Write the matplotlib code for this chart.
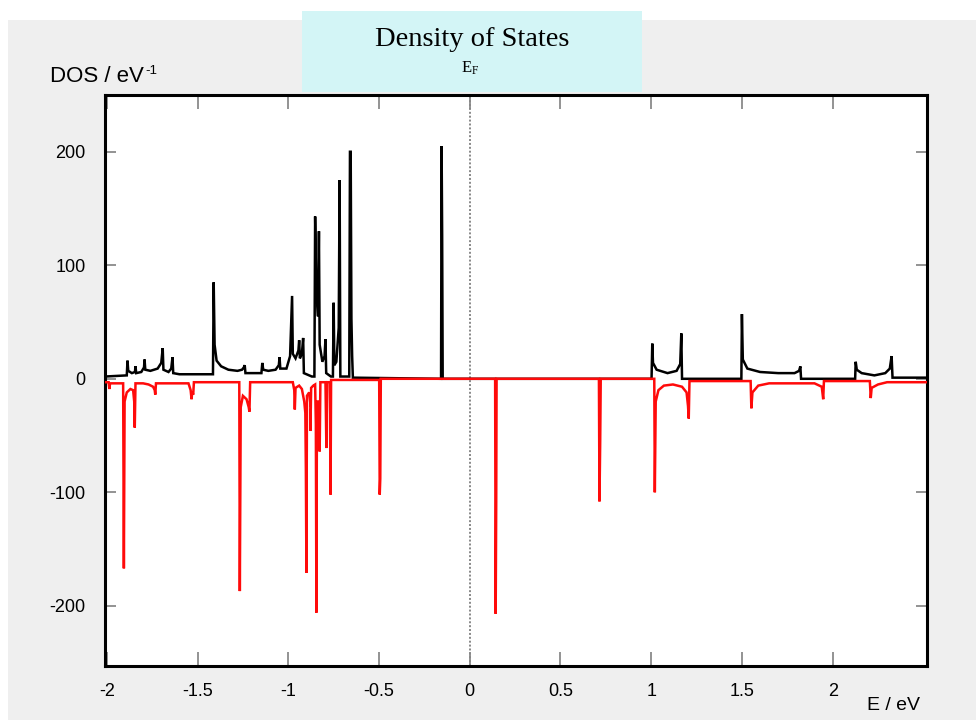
import matplotlib
matplotlib.use("Agg")
import matplotlib.pyplot as plt
from matplotlib.patches import Rectangle

# Spin-up DOS (black), traced vertices: energy (eV), DOS (1/eV)
e_up = [-2.01, -1.89, -1.886, -1.882, -1.862, -1.845, -1.842, -1.838, -1.81, -1.795,
        -1.792, -1.788, -1.76, -1.72, -1.70, -1.692, -1.688, -1.66, -1.645, -1.638,
        -1.634, -1.60, -1.415, -1.411, -1.406, -1.395, -1.37, -1.33, -1.28, -1.255,
        -1.245, -1.24, -1.236, -1.148, -1.143, -1.138, -1.11, -1.07, -1.052, -1.048,
        -1.044, -1.01, -0.99, -0.979, -0.975, -0.96, -0.944, -0.94, -0.936, -0.925,
        -0.918, -0.914, -0.87, -0.856, -0.852, -0.846, -0.836, -0.831, -0.827, -0.812,
        -0.80, -0.795, -0.791, -0.765, -0.754, -0.75, -0.746, -0.735, -0.722, -0.717,
        -0.713, -0.664, -0.66, -0.656, -0.652, -0.648, -0.644, -0.158, -0.155, -0.152,
        -0.149, 1.002, 1.006, 1.01, 1.03, 1.09, 1.14, 1.16, 1.166, 1.17,
        1.497, 1.50, 1.505, 1.53, 1.6, 1.7, 1.79, 1.815, 1.822, 1.826,
        2.124, 2.127, 2.133, 2.16, 2.23, 2.29, 2.315, 2.325, 2.33, 2.52]
dos_up = [2, 3, 16, 7, 5, 6, 11, 5, 6, 10,
          17, 8, 7, 9, 14, 27, 8, 6, 9, 19,
          5, 4, 4, 85, 30, 16, 11, 8, 7, 8,
          10, 12, 5, 5, 14, 8, 7, 8, 12, 19,
          9, 9, 20, 73, 22, 18, 25, 34, 18, 22,
          36, 5, 2, 2, 143, 80, 55, 130, 30, 15,
          20, 35, 5, 2, 2, 67, 12, 15, 45, 175,
          2, 2, 200, 200, 53, 20, 1, 0, 205, 127,
          0, 0, 31, 14, 8, 5, 7, 13, 40, 0,
          0, 57, 17, 9, 6, 5, 5, 7, 11, 0,
          0, 15, 8, 5, 3, 5, 9, 20, 1, 1]

# Spin-down DOS (red), drawn as negative values
e_dn = [-2.01, -1.99, -1.986, -1.982, -1.91, -1.906, -1.902, -1.89, -1.87, -1.855,
        -1.849, -1.846, -1.842, -1.80, -1.77, -1.745, -1.736, -1.733, -1.729, -1.55,
        -1.538, -1.533, -1.529, -1.524, -1.52, -1.27, -1.267, -1.262, -1.25, -1.23,
        -1.218, -1.214, -1.21, -0.975, -0.967, -0.964, -0.96, -0.94, -0.925, -0.912,
        -0.906, -0.903, -0.90, -0.897, -0.885, -0.876, -0.878, -0.874, -0.862, -0.852,
        -0.848, -0.845, -0.842, -0.83, -0.827, -0.823, -0.795, -0.79, -0.786, -0.771,
        -0.767, -0.764, -0.499, -0.496, -0.493, -0.49, 0.14, 0.143, 0.146, 0.148,
        0.712, 0.715, 0.719, 0.722, 1.017, 1.02, 1.025, 1.04, 1.07, 1.12,
        1.17, 1.195, 1.203, 1.207, 1.211, 1.548, 1.552, 1.558, 1.59, 1.65,
        1.9, 1.94, 1.948, 1.952, 2.205, 2.21, 2.215, 2.25, 2.3, 2.52]
dos_dn = [-3, -3, -9, -4, -4, -167, -20, -12, -9, -10,
          -20, -43, -4, -4, -5, -7, -10, -14, -4, -4,
          -10, -18, -11, -14, -3, -3, -187, -25, -15, -18,
          -25, -29, -3, -3, -10, -27, -8, -6, -9, -20,
          -30, -80, -171, -15, -12, -25, -46, -8, -6, -5,
          -40, -206, -20, -20, -64, -3, -3, -61, -3, -3,
          -102, -1, -1, -102, -88, 0, 0, -207, -108, 0,
          0, -108, -55, 0, 0, -100, -20, -10, -6, -5,
          -7, -12, -24, -35, -2, -2, -26, -12, -6, -4,
          -4, -7, -18, -2, -2, -17, -8, -5, -3, -3]

x_ticks = [-2, -1.5, -1, -0.5, 0, 0.5, 1, 1.5, 2]
x_labels = ["-2", "-1.5", "-1", "-0.5", "0", "0.5", "1", "1.5", "2"]
y_ticks = [-200, -100, 0, 100, 200]
y_labels = ["-200", "-100", "0", "100", "200"]

W, H = 976, 725
fig = plt.figure(figsize=(W / 100, H / 100), dpi=100)
fig.patch.set_facecolor("white")

# grey panel and title box, kept behind the axes
fig.patches.append(Rectangle((8 / W, 5 / H), 968 / W, 700 / H, transform=fig.transFigure,
                             facecolor="#efefef", edgecolor="none", zorder=-2))
fig.patches.append(Rectangle((302 / W, (H - 92) / H), 340 / W, 81 / H, transform=fig.transFigure,
                             facecolor="#d3f5f6", edgecolor="none", zorder=-1))
fig.text(472 / W, (H - 40) / H, "Density of States", family="Liberation Serif",
         fontsize=20.5, ha="center", va="center")
fig.text(470 / W, (H - 68) / H, r"$\mathregular{E_F}$", family="Liberation Serif",
         fontsize=12, ha="center", va="center")

ax = fig.add_axes([105 / W, 59 / H, 822 / W, 571 / H])
ax.set_zorder(1)
ax.set_facecolor("white")
ax.plot(e_up, dos_up, color="black", lw=1.8, solid_joinstyle="miter", zorder=3)
ax.plot(e_dn, dos_dn, color="#ff0a0a", lw=1.8, solid_joinstyle="miter", zorder=4)
ax.axvline(0, color="#888888", lw=1.4, ls=(0, (1, 1)), zorder=2)

ax.set_xlim(-2.01, 2.52)
ax.set_ylim(-253, 250)
ax.set_xticks(x_ticks)
ax.set_xticklabels(x_labels)
ax.set_yticks(y_ticks)
ax.set_yticklabels(y_labels)
ax.tick_params(direction="in", length=10, width=1.2, color="#808080",
               top=True, right=True, labelsize=13, pad=12, labelfontfamily="Liberation Sans")
ax.tick_params(axis="y", length=8, pad=14)
for s in ax.spines.values():
    s.set_linewidth(2.2)
    s.set_color("black")

ylab = fig.text(50 / W, (H - 76) / H, "DOS / eV", family="Liberation Sans",
                fontsize=16, ha="left", va="center")
ax.annotate("-1", xy=(1.0, 0.75), xycoords=ylab, xytext=(1, 0), textcoords="offset points",
            family="Liberation Sans", fontsize=9.5, ha="left", va="center",
            annotation_clip=False)
fig.text(920 / W, (H - 706) / H, "E / eV", family="Liberation Sans",
         fontsize=14, ha="right", va="center")

fig.savefig("out.png", dpi=100, facecolor=fig.get_facecolor())
